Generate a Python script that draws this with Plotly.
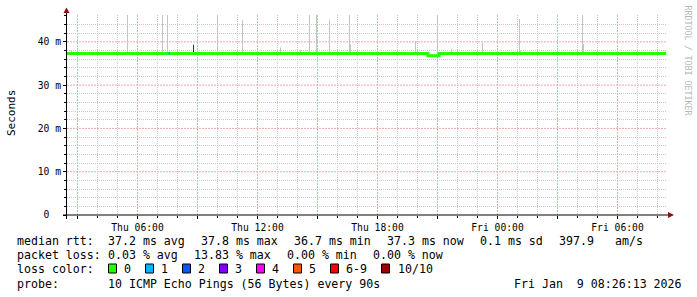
import plotly.graph_objects as go

# ---------------- data ----------------
# median RTT (ms), step-wise
median_times = ["2026-01-08 02:28:30", "2026-01-08 20:31:30",
                "2026-01-08 21:04:30", "2026-01-09 08:25:30"]
median_ms = [37.3, 36.8, 37.3, 37.3]

# short stretch with 1/10 loss
loss1_times = ["2026-01-08 07:33:00", "2026-01-08 07:37:30"]
loss1_ms = [37.35, 37.35]

# smoke (ping spread) spikes: time, top value (ms)
smoke_times = ["2026-01-08 02:42", "2026-01-08 05:30", "2026-01-08 07:15",
               "2026-01-08 07:30", "2026-01-08 10:00", "2026-01-08 11:15",
               "2026-01-08 13:09", "2026-01-08 14:09", "2026-01-08 14:36",
               "2026-01-08 14:57", "2026-01-08 15:36", "2026-01-08 16:36",
               "2026-01-08 16:39", "2026-01-08 19:54", "2026-01-08 21:00",
               "2026-01-08 21:42", "2026-01-08 23:15", "2026-01-09 01:06",
               "2026-01-09 01:09", "2026-01-09 04:15", "2026-01-09 04:18"]
smoke_top_ms = [37.9, 46.2, 46.2, 46.2, 46.2, 45.1,
                38.7, 38.2, 46.2, 46.2, 45.1, 46.2,
                39.5, 40.2, 46.2, 38.4, 39.8, 45.3,
                38.0, 46.2, 39.5]
smoke_base_ms = 37.3

dark_smoke_times = ["2026-01-08 08:48"]
dark_smoke_top_ms = [39.3]

# axis ticks
y_tickvals = [0, 10, 20, 30, 40]
y_ticktext = ["0\u00a0\u00a0", "10 m", "20 m", "30 m", "40 m"]
y_minorvals = [2, 4, 6, 8, 12, 14, 16, 18, 22, 24, 26, 28, 32, 34, 36, 38, 42, 44, 46]
x_tickvals = ["2026-01-08 03:00", "2026-01-08 06:00", "2026-01-08 09:00",
              "2026-01-08 12:00", "2026-01-08 15:00", "2026-01-08 18:00",
              "2026-01-08 21:00", "2026-01-09 00:00", "2026-01-09 03:00",
              "2026-01-09 06:00"]
x_ticktext = ["", "Thu 06:00", "", "Thu 12:00", "", "Thu 18:00", "",
              "Fri 00:00", "", "Fri 06:00"]
x_minorvals = ["2026-01-08 04:00", "2026-01-08 05:00", "2026-01-08 07:00",
               "2026-01-08 08:00", "2026-01-08 10:00", "2026-01-08 11:00",
               "2026-01-08 13:00", "2026-01-08 14:00", "2026-01-08 16:00",
               "2026-01-08 17:00", "2026-01-08 19:00", "2026-01-08 20:00",
               "2026-01-08 22:00", "2026-01-08 23:00", "2026-01-09 01:00",
               "2026-01-09 02:00", "2026-01-09 04:00", "2026-01-09 05:00",
               "2026-01-09 07:00", "2026-01-09 08:00"]
x_start = "2026-01-08 02:28:30"
x_end = "2026-01-09 08:28:30"
y_max = 46.2

# legend texts
rtt_label = "median rtt:"
rtt_stats = ["37.2 ms avg", "37.8 ms max", "36.7 ms min", "37.3 ms now",
             "0.1 ms sd", "397.9", "am/s"]
loss_label = "packet loss:"
loss_stats = ["0.03 % avg", "13.83 % max", "0.00 % min", "0.00 % now"]
color_label = "loss color:"
loss_names = ["0", "1", "2", "3", "4", "5", "6-9", "10/10"]
loss_colors = ["#26ff00", "#00b8ff", "#0059ff", "#7e00ff", "#ff00ff",
               "#ff5500", "#ff0000", "#a10000"]
probe_label = "probe:"
probe_text = "10 ICMP Echo Pings (56 Bytes) every 90s"
stamp_text = "Fri Jan  9 08:26:13 2026"
watermark = "RRDTOOL / TOBI OETIKER"

# ---------------- layout geometry (pixels) ----------------
W, H = 697, 297
L, T, PW, PH = 67, 15, 600, 200
MONO = "DejaVu Sans Mono"


def px(x):
    return (x - L) / PW


def py(y):
    return (T + PH - y) / PH


fig = go.Figure()

fig.add_trace(go.Bar(x=smoke_times,
                     y=[v - smoke_base_ms for v in smoke_top_ms],
                     base=smoke_base_ms, width=150000,
                     marker=dict(color="#c4c4c4", line=dict(width=0)),
                     hoverinfo="skip"))
fig.add_trace(go.Bar(x=dark_smoke_times,
                     y=[v - smoke_base_ms for v in dark_smoke_top_ms],
                     base=smoke_base_ms, width=150000,
                     marker=dict(color="#303030", line=dict(width=0)),
                     hoverinfo="skip"))
fig.add_trace(go.Scatter(x=median_times, y=median_ms, mode="lines",
                         line=dict(color=loss_colors[0], width=3, shape="hv"),
                         hoverinfo="skip"))
fig.add_trace(go.Scatter(x=loss1_times, y=loss1_ms, mode="lines",
                         line=dict(color=loss_colors[1], width=3),
                         hoverinfo="skip"))

grid_minor = "#c8c8c8"
grid_major = "#f0a8a8"

fig.update_layout(
    width=W, height=H, showlegend=False, barmode="overlay",
    margin=dict(l=L, r=W - L - PW, t=T, b=H - T - PH, pad=0),
    paper_bgcolor="white", plot_bgcolor="white",
    font=dict(family=MONO, size=9.7, color="black"),
    xaxis=dict(type="date", range=[x_start, x_end],
               tickmode="array", tickvals=x_tickvals, ticktext=x_ticktext,
               ticks="outside", ticklen=3, tickcolor="black", tickwidth=1,
               showgrid=False, zeroline=False, showline=False,
               tickfont=dict(family=MONO, size=9.7, color="black"),
               minor=dict(tickmode="array", tickvals=x_minorvals,
                          showgrid=True, gridcolor=grid_minor,
                          griddash="1px,1px", ticks="outside", ticklen=2,
                          tickcolor="black")),
    yaxis=dict(range=[0, y_max], tickmode="array", tickvals=y_tickvals,
               ticktext=y_ticktext, ticks="outside", ticklen=3,
               tickcolor="black", showgrid=False, zeroline=False,
               showline=False,
               tickfont=dict(family=MONO, size=9.7, color="black"),
               minor=dict(tickmode="array", tickvals=y_minorvals,
                          showgrid=True, gridcolor=grid_minor,
                          griddash="1px,1px", ticks="outside", ticklen=2,
                          tickcolor="black")),
)

shapes = []
# major grid lines at the axis' major tick values
for tv in x_tickvals:
    shapes.append(dict(type="line", xref="x", yref="paper", x0=tv, x1=tv,
                       y0=0, y1=1, layer="below",
                       line=dict(color=grid_major, width=1, dash="2px,1px")))
for tv in y_tickvals[1:]:
    shapes.append(dict(type="line", xref="paper", yref="y", x0=0, x1=1,
                       y0=tv, y1=tv, layer="below",
                       line=dict(color=grid_major, width=1, dash="2px,1px")))
# axis lines with arrows
shapes.append(dict(type="line", xref="paper", yref="paper",
                   x0=px(63), x1=px(669), y0=py(215), y1=py(215),
                   line=dict(color="black", width=1)))
shapes.append(dict(type="line", xref="paper", yref="paper",
                   x0=px(66.5), x1=px(66.5), y0=py(219), y1=py(11),
                   line=dict(color="black", width=1)))
arrow_col = "#8b1010"
shapes.append(dict(type="path", xref="paper", yref="paper",
                   path=f"M {px(63.5)} {py(13)} L {px(69.5)} {py(13)} L {px(66.5)} {py(7.5)} Z",
                   fillcolor=arrow_col, line=dict(color=arrow_col, width=0)))
shapes.append(dict(type="path", xref="paper", yref="paper",
                   path=f"M {px(668)} {py(212)} L {px(668)} {py(218)} L {px(674)} {py(215)} Z",
                   fillcolor=arrow_col, line=dict(color=arrow_col, width=0)))

annotations = []


def text(x, y, s, size=11.6, color="black", angle=0, xanchor="left"):
    annotations.append(dict(xref="paper", yref="paper", x=px(x), y=py(y),
                            text=s, showarrow=False, xanchor=xanchor,
                            yanchor="middle", textangle=angle,
                            font=dict(family=MONO, size=size, color=color)))


# y axis title & watermark
text(11, 113, "Seconds", size=11, angle=-90, xanchor="center")
text(687.5, 60, watermark, size=8.3, color="#b8b8b8", angle=90, xanchor="center")

# legend rows
row_y = [241.3, 255.3, 268.7, 283.7]
x0 = 15
text(x0, row_y[0], rtt_label)
for xx, s in zip([106.3, 199.3, 292.3, 385.3, 478.3, 557.3, 613], rtt_stats):
    text(xx, row_y[0], s)
text(x0, row_y[1], loss_label)
for xx, s in zip([106.3, 191.7, 285, 371.3], loss_stats):
    text(xx, row_y[1], s)
text(x0, row_y[2], color_label)
box_x = [108.5, 145.5, 182.5, 219.5, 256.5, 293.5, 330.5, 381.5]
lab_x = [122.3, 159.3, 196, 233.3, 270.3, 307.3, 344, 395.7]
for bx, lx, name, col in zip(box_x, lab_x, loss_names, loss_colors):
    shapes.append(dict(type="rect", xref="paper", yref="paper",
                       x0=px(bx), x1=px(bx + 8), y0=py(264), y1=py(273),
                       fillcolor=col, line=dict(color="black", width=1)))
    text(lx, row_y[2], name)
text(x0, row_y[3], probe_label)
text(106.3, row_y[3], probe_text)
text(512.3, row_y[3], stamp_text.replace(" ", "\u00a0"))

fig.update_layout(shapes=shapes, annotations=annotations)
fig.write_html("out.html")
